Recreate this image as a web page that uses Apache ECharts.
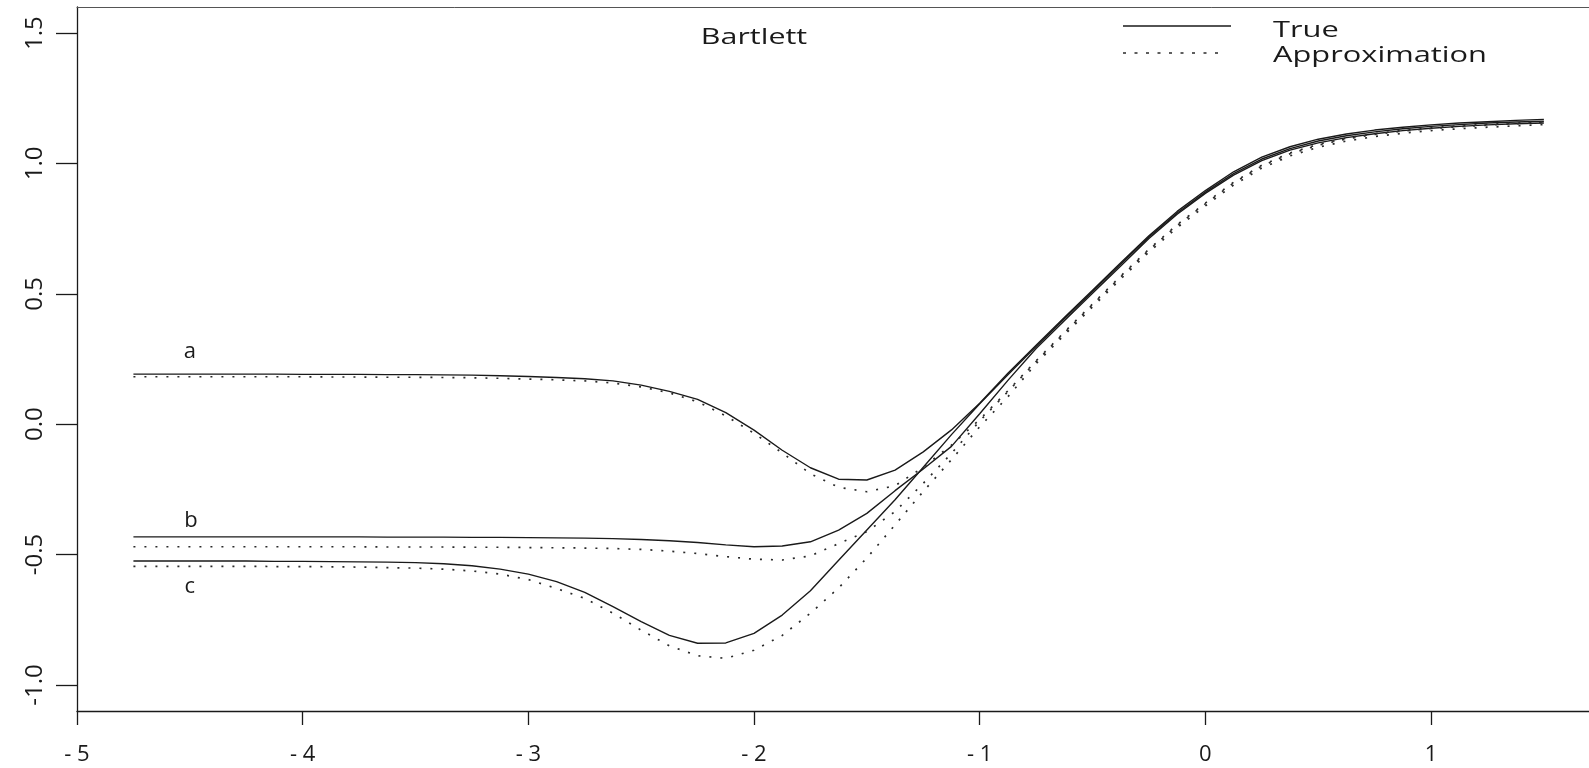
<!DOCTYPE html>
<html>
<head>
<meta charset="utf-8">
<script src="https://cdn.jsdelivr.net/npm/echarts@6/dist/echarts.min.js"></script>
<style>
  html, body { margin: 0; padding: 0; background: #fff; }
  #chartmain { width: 1589px; height: 768px; }
</style>
</head>
<body>
<div id="chartmain"></div>
<script>
// x grid of the curves
var xs = [-4.75, -4.625, -4.5, -4.375, -4.25, -4.125, -4.0, -3.875, -3.75, -3.625, -3.5,
  -3.375, -3.25, -3.125, -3.0, -2.875, -2.75, -2.625, -2.5, -2.375, -2.25,
  -2.125, -2.0, -1.875, -1.75, -1.625, -1.5, -1.375, -1.25, -1.125, -1.0,
  -0.875, -0.75, -0.625, -0.5, -0.375, -0.25, -0.125, 0.0, 0.125, 0.25,
  0.375, 0.5, 0.625, 0.75, 0.875, 1.0, 1.125, 1.25, 1.375, 1.5];

// True (solid)
var aTrue = [0.192, 0.192, 0.192, 0.192, 0.192, 0.192, 0.191, 0.191, 0.191, 0.190, 0.190,
  0.189, 0.188, 0.186, 0.183, 0.179, 0.174, 0.166, 0.150, 0.126, 0.095,
  0.044, -0.023, -0.100, -0.167, -0.211, -0.214, -0.176, -0.106, -0.022, 0.080,
  0.195, 0.303, 0.409, 0.514, 0.619, 0.723, 0.816, 0.896, 0.968, 1.024,
  1.064, 1.093, 1.113, 1.128, 1.139, 1.148, 1.155, 1.160, 1.165, 1.169];
var bTrue = [-0.432, -0.432, -0.432, -0.432, -0.432, -0.432, -0.432, -0.432, -0.432, -0.433, -0.433,
  -0.433, -0.434, -0.434, -0.435, -0.436, -0.437, -0.439, -0.442, -0.447, -0.454,
  -0.463, -0.470, -0.467, -0.451, -0.406, -0.342, -0.255, -0.172, -0.085, 0.040,
  0.168, 0.290, 0.397, 0.502, 0.607, 0.712, 0.805, 0.885, 0.955, 1.011,
  1.051, 1.079, 1.099, 1.114, 1.126, 1.135, 1.142, 1.148, 1.152, 1.155];
var cTrue = [-0.525, -0.525, -0.525, -0.525, -0.525, -0.526, -0.526, -0.527, -0.528, -0.529, -0.531,
  -0.535, -0.543, -0.556, -0.575, -0.604, -0.645, -0.700, -0.757, -0.810, -0.840,
  -0.839, -0.802, -0.732, -0.639, -0.522, -0.406, -0.290, -0.165, -0.040, 0.078,
  0.190, 0.298, 0.404, 0.509, 0.614, 0.718, 0.810, 0.890, 0.961, 1.017,
  1.057, 1.086, 1.106, 1.121, 1.133, 1.142, 1.149, 1.155, 1.159, 1.162];

// Approximation (dotted)
var aApprox = [0.182, 0.182, 0.182, 0.182, 0.182, 0.182, 0.182, 0.181, 0.181, 0.180, 0.180,
  0.179, 0.178, 0.176, 0.173, 0.170, 0.166, 0.158, 0.143, 0.120, 0.086,
  0.032, -0.035, -0.110, -0.190, -0.242, -0.259, -0.236, -0.165, -0.080, 0.018,
  0.128, 0.243, 0.353, 0.461, 0.568, 0.671, 0.765, 0.848, 0.928, 0.993,
  1.040, 1.073, 1.097, 1.114, 1.127, 1.137, 1.144, 1.150, 1.155, 1.160];
var bApprox = [-0.470, -0.470, -0.470, -0.470, -0.470, -0.470, -0.470, -0.470, -0.470, -0.471, -0.471,
  -0.471, -0.472, -0.472, -0.473, -0.474, -0.475, -0.477, -0.480, -0.487, -0.496,
  -0.508, -0.518, -0.521, -0.505, -0.458, -0.412, -0.335, -0.227, -0.112, 0.012,
  0.125, 0.240, 0.350, 0.458, 0.565, 0.668, 0.762, 0.845, 0.925, 0.990,
  1.037, 1.070, 1.094, 1.111, 1.124, 1.134, 1.141, 1.147, 1.152, 1.157];
var cApprox = [-0.545, -0.545, -0.545, -0.545, -0.545, -0.546, -0.546, -0.547, -0.548, -0.550, -0.552,
  -0.556, -0.563, -0.575, -0.596, -0.630, -0.668, -0.725, -0.790, -0.850, -0.888,
  -0.898, -0.867, -0.810, -0.725, -0.628, -0.513, -0.386, -0.258, -0.136, -0.010,
  0.105, 0.232, 0.342, 0.450, 0.557, 0.660, 0.754, 0.837, 0.917, 0.982,
  1.029, 1.062, 1.086, 1.103, 1.116, 1.126, 1.133, 1.139, 1.144, 1.149];

var xTicks = [-5, -4, -3, -2, -1, 0, 1];
var yTicks = [-1.0, -0.5, 0.0, 0.5, 1.0, 1.5];

// curve labels a, b, c (data coords)
var curveNames = ['a', 'b', 'c'];
var curveLabelAt = [[-4.5, 0.278], [-4.495, -0.372], [-4.5, -0.624]];

var ink = '#1a1a1a';
var font = '"Open Sans", "Noto Sans", sans-serif';

function pairs(arr) {
  return xs.map(function (x, i) { return [x, arr[i]]; });
}

function solid(arr, k) {
  return {
    type: 'line',
    data: pairs(arr),
    showSymbol: false,
    silent: true,
    animation: false,
    lineStyle: { color: ink, width: 1.4 },
    markPoint: {
      symbol: 'circle',
      symbolSize: 1,
      itemStyle: { color: 'rgba(0,0,0,0)' },
      label: {
        show: true, position: 'inside', formatter: curveNames[k],
        color: ink, fontSize: 22, fontFamily: font
      },
      data: [{ coord: curveLabelAt[k] }]
    }
  };
}

function dotted(arr) {
  return {
    type: 'line',
    data: pairs(arr),
    showSymbol: false,
    silent: true,
    animation: false,
    lineStyle: { color: '#2a2a2a', width: 1.7, type: [2, 9], cap: 'butt' }
  };
}

var chartmain = echarts.init(document.getElementById('chartmain'));
chartmain.setOption({
  backgroundColor: '#fff',
  animation: false,
  grid: { left: 77, top: 7, right: 0, bottom: 57, show: false },
  xAxis: [{
    type: 'value', min: -5, max: 1.70,
    axisLine: { show: true, onZero: false, lineStyle: { color: ink, width: 1.3 } },
    axisTick: { show: true, length: 14, customValues: xTicks, lineStyle: { color: ink, width: 1.3 } },
    axisLabel: {
      customValues: xTicks, margin: 33, fontSize: 22, color: ink, fontFamily: font,
      formatter: function (v) { return v < 0 ? '- ' + Math.abs(v) : String(v); }
    },
    splitLine: { show: false }
  }, {
    // top frame line
    type: 'value', position: 'top', min: -5, max: 1.70,
    axisLine: { show: true, onZero: false, lineStyle: { color: '#555', width: 1 } },
    axisTick: { show: false }, axisLabel: { show: false }, splitLine: { show: false }
  }],
  yAxis: {
    type: 'value', min: -1.1, max: 1.6,
    axisLine: { show: true, onZero: false, lineStyle: { color: ink, width: 1.3 } },
    axisTick: { show: true, length: 21, customValues: yTicks, lineStyle: { color: ink, width: 1.3 } },
    axisLabel: {
      customValues: yTicks, rotate: 90, margin: 30, fontSize: 24, color: ink, fontFamily: font,
      formatter: function (v) { return v.toFixed(1); }
    },
    splitLine: { show: false }
  },
  graphic: [
    { type: 'text', x: 754, y: 38, scaleX: 1.45, silent: true,
      style: { text: 'Bartlett', align: 'center', verticalAlign: 'middle', font: '21px ' + font, fill: ink } },
    { type: 'line', silent: true, shape: { x1: 1123, y1: 26, x2: 1231, y2: 26 },
      style: { stroke: ink, lineWidth: 1.3 } },
    { type: 'line', silent: true, shape: { x1: 1123, y1: 53, x2: 1225, y2: 53 },
      style: { stroke: '#2a2a2a', lineWidth: 1.7, lineDash: [3, 8.5] } },
    { type: 'text', x: 1273, y: 31, scaleX: 1.4, silent: true,
      style: { text: 'True', align: 'left', verticalAlign: 'middle', font: '22px ' + font, fill: ink } },
    { type: 'text', x: 1273, y: 56, scaleX: 1.4, silent: true,
      style: { text: 'Approximation', align: 'left', verticalAlign: 'middle', font: '22px ' + font, fill: ink } }
  ],
  series: [
    solid(aTrue, 0), solid(bTrue, 1), solid(cTrue, 2),
    dotted(aApprox), dotted(bApprox), dotted(cApprox)
  ]
});
</script>
</body>
</html>
